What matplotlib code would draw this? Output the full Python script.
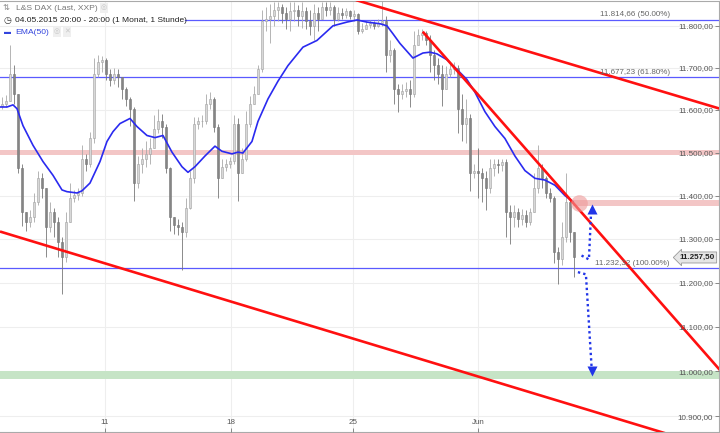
import numpy as np
import matplotlib
matplotlib.use("Agg")
import matplotlib.pyplot as plt
from matplotlib.ticker import FuncFormatter, NullLocator

plt.rcParams['font.family'] = ['Liberation Sans', 'DejaVu Sans']

# hourly candles, L&S DAX (open = previous close)
first_open = 11610
closes = [11614, 11621, 11684, 11638, 11463, 11361, 11338, 11350, 11384, 11440,
          11418, 11327, 11361, 11338, 11293, 11259, 11338, 11395, 11402, 11406,
          11485, 11474, 11533, 11684, 11714, 11719, 11684, 11672, 11684, 11677,
          11649, 11626, 11603, 11429, 11474, 11485, 11497, 11510, 11556, 11575,
          11561, 11463, 11350, 11332, 11327, 11316, 11372, 11440, 11568, 11573,
          11575, 11614, 11626, 11561, 11440, 11467, 11474, 11481, 11568, 11452,
          11485, 11568, 11614, 11638, 11696, 11812, 11816, 11823, 11839, 11846,
          11830, 11816, 11835, 11839, 11823, 11835, 11812, 11800, 11830, 11816,
          11846, 11839, 11846, 11816, 11830, 11826, 11835, 11823, 11828, 11788,
          11793, 11802, 11807, 11800, 11807, 11812, 11730, 11742, 11649, 11638,
          11645, 11649, 11638, 11754, 11777, 11784, 11765, 11730, 11707, 11684,
          11649, 11684, 11696, 11700, 11603, 11568, 11580, 11452, 11458, 11452,
          11440, 11418, 11463, 11474, 11470, 11479, 11361, 11350, 11361, 11345,
          11354, 11338, 11361, 11418, 11463, 11440, 11406, 11395, 11271, 11255,
          11305, 11384, 11316, 11257.5]
highs = [11631, 11635, 11754, 11707, 11626, 11474, 11361, 11366, 11406, 11456,
         11452, 11418, 11384, 11372, 11350, 11305, 11361, 11429, 11413, 11418,
         11517, 11497, 11549, 11723, 11730, 11728, 11723, 11696, 11700, 11696,
         11672, 11654, 11631, 11607, 11492, 11510, 11526, 11533, 11587, 11603,
         11591, 11568, 11467, 11345, 11345, 11338, 11395, 11458, 11584, 11584,
         11587, 11638, 11642, 11631, 11568, 11485, 11485, 11490, 11587, 11580,
         11510, 11598, 11633, 11656, 11707, 11839, 11846, 11853, 11858, 11858,
         11853, 11846, 11858, 11858, 11851, 11858, 11846, 11839, 11853, 11846,
         11858, 11858, 11858, 11849, 11846, 11842, 11844, 11839, 11839, 11830,
         11807, 11812, 11814, 11812, 11816, 11862, 11823, 11765, 11747, 11661,
         11661, 11665, 11672, 11788, 11793, 11793, 11788, 11777, 11742, 11723,
         11707, 11705, 11712, 11714, 11707, 11638, 11626, 11591, 11474, 11510,
         11463, 11458, 11485, 11485, 11485, 11485, 11485, 11379, 11379, 11372,
         11368, 11366, 11372, 11452, 11517, 11474, 11445, 11418, 11400, 11282,
         11338, 11452, 11395, 11316]
lows = [11603, 11607, 11626, 11614, 11452, 11329, 11318, 11327, 11338, 11379,
        11395, 11259, 11316, 11305, 11259, 11175, 11248, 11338, 11384, 11390,
        11400, 11458, 11467, 11522, 11677, 11691, 11672, 11656, 11661, 11654,
        11626, 11610, 11563, 11388, 11418, 11452, 11467, 11474, 11510, 11545,
        11533, 11452, 11318, 11311, 11309, 11230, 11305, 11368, 11429, 11556,
        11561, 11568, 11603, 11549, 11395, 11440, 11456, 11463, 11474, 11388,
        11463, 11481, 11561, 11619, 11638, 11691, 11788, 11758, 11800, 11812,
        11807, 11793, 11788, 11812, 11800, 11795, 11793, 11777, 11765, 11788,
        11830, 11823, 11826, 11800, 11812, 11816, 11819, 11816, 11812, 11781,
        11784, 11793, 11795, 11793, 11798, 11800, 11689, 11714, 11614, 11596,
        11626, 11631, 11607, 11631, 11761, 11765, 11754, 11689, 11672, 11661,
        11610, 11661, 11677, 11684, 11545, 11526, 11522, 11411, 11440, 11395,
        11384, 11366, 11406, 11445, 11452, 11458, 11305, 11289, 11327, 11327,
        11332, 11327, 11332, 11361, 11406, 11418, 11395, 11384, 11244, 11198,
        11241, 11293, 11293, 11214]

# EMA(50) as drawn (candle index, value)
ema_idx = [-0.5, 1.25, 2.75, 3.75, 5.25, 7.75, 10.25, 12.75, 15, 16.25, 18.75, 20, 22,
           24.5, 26.25, 27.75, 29.5, 32, 33.75, 36.25, 38.25, 40.25, 42.5, 45, 46.5,
           48.25, 50.75, 53.25, 55, 57.5, 59, 60.25, 62.5, 64, 66.5, 69, 71.5, 75.25,
           78.75, 82.75, 86.25, 88.75, 91.25, 94.5, 96.25, 97.75, 99.5, 102.75, 105.25,
           107, 108.75, 111.25, 113.75, 116.25, 118.25, 120.75, 123.25, 125.75, 128.25,
           130.75, 133.25, 135.75, 138.25, 140.75, 142.75]
ema_val = [11607, 11607, 11612, 11603, 11563, 11517, 11479, 11447, 11413, 11409, 11406,
           11411, 11429, 11479, 11526, 11549, 11568, 11580, 11561, 11540, 11535, 11540,
           11501, 11467, 11454, 11467, 11492, 11515, 11503, 11497, 11501, 11499, 11526,
           11573, 11626, 11668, 11705, 11749, 11765, 11800, 11809, 11814, 11809, 11805,
           11800, 11781, 11758, 11723, 11735, 11737, 11733, 11719, 11696, 11672, 11642,
           11596, 11561, 11533, 11492, 11458, 11440, 11436, 11424, 11400, 11386]

week_ticks = [25.75, 57.25, 87.75, 119]
week_labels = ['11', '18', '25', 'Jun']
price_ticks = [10900, 11000, 11100, 11200, 11300, 11400, 11500, 11600, 11700, 11800]

fib_levels = [11814.66, 11677.23, 11232.32]
fib_labels = ['11.814,66 (50.00%)', '11.677,23 (61.80%)', '11.232,32 (100.00%)']
last_price = 11257.5

# drawn trend lines: (index, price) pairs
trend_lines = [[(88.5, 11862), (179.5, 11603)],
               [(105.2, 11786), (179.5, 11003)],
               [(-0.5, 11317), (179.5, 10826)]]
arrow_up = ([144.9, 146.75, 147.3], [11262, 11253, 11362])
arrow_down = ([144.0, 146.0, 147.4], [11224, 11219, 11012])


def de_fmt(v, pos=None):
    s = f"{v:,.2f}"
    return s.replace(',', 'X').replace('.', ',').replace('X', '.')


fig = plt.figure(figsize=(7.2, 4.33), dpi=100)
ax = fig.add_axes([0, 0.002, 0.9993, 0.996])
ax.set_yscale('log')
ax.set_xlim(-0.5, 179.4)
ax.set_ylim(10865, 11860)

ax.set_yticks(price_ticks)
ax.yaxis.set_minor_locator(NullLocator())
ax.yaxis.set_major_formatter(FuncFormatter(de_fmt))
ax.yaxis.tick_right()
ax.tick_params(axis='y', direction='in', length=3, pad=-4.5, labelsize=5.8,
               labelcolor='#555555', color='#777777', width=0.6)
for t in ax.get_yticklabels():
    t.set_ha('right')

ax.set_xticks(week_ticks, week_labels)
ax.tick_params(axis='x', direction='in', length=3, pad=-9.5, labelsize=5.8,
               labelcolor='#555555', color='#777777', width=0.6)

# faint grid under everything, tick labels above the zones
for p in price_ticks:
    ax.axhline(p, color='#eeeeee', lw=0.8, zorder=0.5)
for w in week_ticks:
    ax.axvline(w, color='#eeeeee', lw=0.8, zorder=0.5)
ax.yaxis.set_zorder(9)
ax.xaxis.set_zorder(9)
ax.spines['left'].set_visible(False)
for s in ['top', 'right', 'bottom']:
    ax.spines[s].set_color('#aaaaaa')
    ax.spines[s].set_linewidth(0.8)

# zones
ax.axhspan(11495, 11506, color='#f3c6c6', zorder=1, lw=0)
ax.axhspan(11377, 11390, xmin=573 / 720, color='#f3c6c6', zorder=1, lw=0)
ax.axhspan(10982, 11000, color='#c6e4c6', zorder=1, lw=0)

# fibonacci levels
for k, (lvl, lab) in enumerate(zip(fib_levels, fib_labels)):
    ax.axhline(lvl, xmin=(185 / 720 if k == 0 else 0), color='#5a5aff', lw=0.9, zorder=2)
    ax.annotate(lab, xy=(167, lvl), xytext=(0, 1.2), textcoords='offset points',
                ha='right', va='bottom', fontsize=5.8, color='#666666', zorder=8)

# candles
c = np.array(closes, dtype=float)
o = np.r_[first_open, c[:-1]]
hi = np.maximum(np.array(highs, dtype=float), np.maximum(o, c))
lo = np.minimum(np.array(lows, dtype=float), np.minimum(o, c))
idx = np.arange(len(c))
up = c >= o
ax.vlines(idx, lo, hi, colors=np.where(up, '#a8a8a8', '#777777'), lw=0.6, zorder=3)
ax.bar(idx, np.maximum(np.abs(c - o), 1.2), bottom=np.minimum(o, c), width=0.55,
       color=np.where(up, '#d8d8d8', '#858585'),
       edgecolor=np.where(up, '#a0a0a0', '#747474'), lw=0.4, zorder=4)

# EMA
ax.plot(ema_idx, ema_val, color='#2a2af0', lw=1.2, zorder=5)

# trend lines
for (p0, p1) in trend_lines:
    ax.plot([p0[0], p1[0]], [p0[1], p1[1]], color='#ff1010', lw=1.9,
            solid_capstyle='butt', zorder=6)

# resistance marker
ax.plot([144.25], [11382], 'o', ms=12, color='#ee9a9a', alpha=0.6, mec='none', zorder=7)

# scenario arrows
ax.plot(*arrow_up, ls=(0, (1, 1.3)), color='#2236e8', lw=1.7, zorder=7)
ax.plot([arrow_up[0][-1] + 0.2], [arrow_up[1][-1] + 8], marker='^', ms=6.5,
        color='#2236e8', mec='none', zorder=7)
ax.plot(*arrow_down, ls=(0, (1, 1.3)), color='#2236e8', lw=1.7, zorder=7)
ax.plot([arrow_down[0][-1] + 0.1], [arrow_down[1][-1] - 12], marker='v', ms=6.5,
        color='#2236e8', mec='none', zorder=7)

# last price tag
ax.annotate(de_fmt(last_price), xy=(1, last_price), xycoords=('axes fraction', 'data'),
            xytext=(-3.5, 0), textcoords='offset points', ha='right', va='center',
            fontsize=5.8, color='#222222', fontweight='bold', zorder=10,
            bbox=dict(boxstyle='larrow,pad=0.25', fc='#e6e6e6', ec='#999999', lw=0.6))


# header
def fx(px):
    return px / 720


def fy(py):
    return 1 - py / 433


fig.text(fx(3), fy(8), '⇅', fontsize=6, color='#888888', va='center')
fig.text(fx(16), fy(8), 'L&S DAX (Last, XXP)', fontsize=6.1, color='#777777', va='center')
fig.text(fx(101), fy(8), '◎', fontsize=5, color='#c8c8c8', va='center',
         bbox=dict(boxstyle='square,pad=0.15', fc='#efefef', ec='none'))
fig.text(fx(3), fy(20), '◷', fontsize=6.5, color='#333333', va='center')
fig.text(fx(15), fy(20), '04.05.2015 20:00 - 20:00 (1 Monat, 1 Stunde)', fontsize=6.0,
         color='#222222', va='center')
fig.text(fx(4), fy(32), '▬', fontsize=5, color='#3344dd', va='center')
fig.text(fx(15), fy(32), 'EMA(50)', fontsize=6.1, color='#3344dd', va='center')
fig.text(fx(54), fy(32), '◎', fontsize=5, color='#c8c8c8', va='center',
         bbox=dict(boxstyle='square,pad=0.15', fc='#efefef', ec='none'))
fig.text(fx(64), fy(32), '✕', fontsize=5, color='#c8c8c8', va='center',
         bbox=dict(boxstyle='square,pad=0.15', fc='#efefef', ec='none'))

fig.savefig('out.png', dpi=100)
